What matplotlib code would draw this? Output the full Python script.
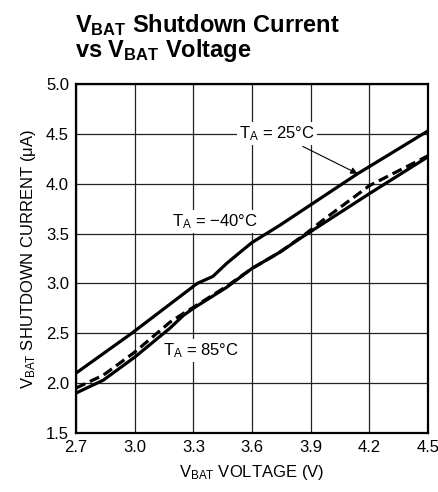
import matplotlib
matplotlib.use("Agg")
import matplotlib.pyplot as plt
from matplotlib import font_manager

# pick a condensed font if available
names = {f.name for f in font_manager.fontManager.ttflist}
font = "Liberation Sans Narrow" if "Liberation Sans Narrow" in names else "Liberation Sans"
plt.rcParams["font.family"] = [font, "DejaVu Sans"]
plt.rcParams["mathtext.fontset"] = "custom"
plt.rcParams["mathtext.rm"] = font
plt.rcParams["mathtext.it"] = font
plt.rcParams["mathtext.bf"] = font + ":bold"

# data
v_m40 = [2.7, 2.985, 3.32, 3.4, 3.47, 3.55, 3.6, 3.74, 4.14, 4.5]
i_m40 = [2.10, 2.50, 3.00, 3.07, 3.20, 3.33, 3.41, 3.58, 4.10, 4.53]

v_25 = [2.7, 2.84, 3.0, 3.18, 3.25, 3.3, 3.47, 3.6, 3.74, 3.87, 3.96, 4.2, 4.5]
i_25 = [1.95, 2.08, 2.31, 2.61, 2.70, 2.76, 2.97, 3.15, 3.31, 3.49, 3.63, 3.98, 4.28]

v_85 = [2.7, 2.84, 3.0, 3.18, 3.25, 3.3, 3.47, 3.6, 3.74, 3.845, 4.2, 4.5]
i_85 = [1.90, 2.03, 2.26, 2.55, 2.68, 2.75, 2.96, 3.15, 3.31, 3.45, 3.90, 4.27]

x_ticks = [2.7, 3.0, 3.3, 3.6, 3.9, 4.2, 4.5]
y_ticks = [1.5, 2.0, 2.5, 3.0, 3.5, 4.0, 4.5, 5.0]

fig = plt.figure(figsize=(4.39, 4.92), dpi=100)
ax = fig.add_axes([0.1731, 0.12, 0.8019, 0.7093])

ax.plot(v_m40, i_m40, color="black", lw=2.3, zorder=3)
ax.plot(v_85, i_85, color="black", lw=2.3, zorder=3)
ax.plot(v_25, i_25, color="black", lw=2.3, ls=(0, (3.2, 1.6)), zorder=3)

ax.set_xlim(2.7, 4.5)
ax.set_ylim(1.5, 5.0)
ax.set_xticks(x_ticks)
ax.set_xticklabels([f"{t:.1f}" for t in x_ticks])
ax.set_yticks(y_ticks)
ax.set_yticklabels([f"{t:.1f}" for t in y_ticks])
ax.tick_params(length=0, labelsize=12, pad=5)
ax.grid(True, color="#222222", lw=0.9, zorder=1)
for s in ax.spines.values():
    s.set_linewidth(1.6)

ax.set_xlabel(r"V$_{\mathrm{BAT}}$ VOLTAGE (V)", fontsize=12, labelpad=6)
ax.set_ylabel(r"V$_{\mathrm{BAT}}$ SHUTDOWN CURRENT (μA)", fontsize=12, labelpad=6)

box = dict(facecolor="white", edgecolor="none", pad=1.5)
ax.annotate(r"T$_{\mathrm{A}}$ = 25°C", xy=(4.14, 4.10), xytext=(3.73, 4.5),
            fontsize=12, ha="center", va="center", bbox=box, zorder=4,
            arrowprops=dict(arrowstyle="-|>", color="black", lw=0.8,
                            shrinkA=2, shrinkB=0, mutation_scale=10))
ax.text(3.41, 3.62, r"T$_{\mathrm{A}}$ = −40°C", fontsize=12, ha="center",
        va="center", bbox=box, zorder=4)
ax.text(3.34, 2.33, r"T$_{\mathrm{A}}$ = 85°C", fontsize=12, ha="center",
        va="center", bbox=box, zorder=4)

fig.text(0.171, 0.975, r"$\mathbf{V_{BAT}}$ Shutdown Current" + "\n" +
         r"vs $\mathbf{V_{BAT}}$ Voltage", fontsize=17, fontweight="bold",
         ha="left", va="top", linespacing=0.95)

fig.savefig("out.png", dpi=100)
